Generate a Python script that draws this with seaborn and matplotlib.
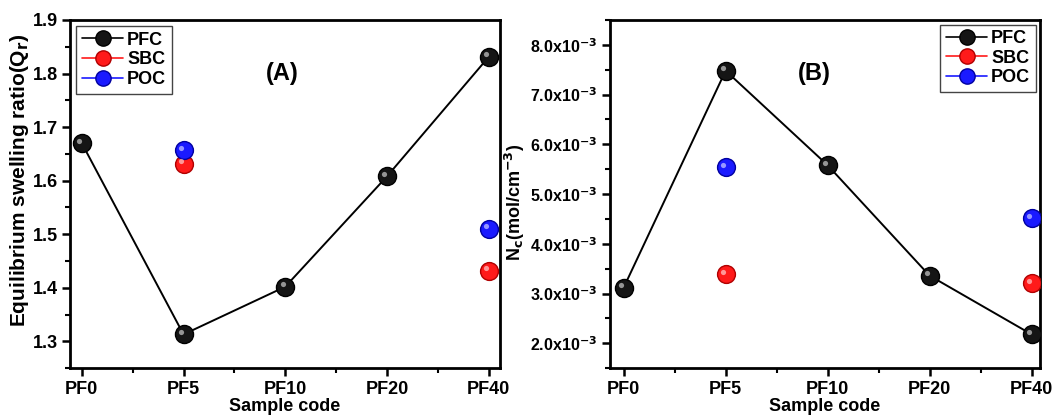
import numpy as np
import pandas as pd
import matplotlib
matplotlib.use("Agg")
import matplotlib.pyplot as plt
import seaborn as sns
from matplotlib.ticker import MultipleLocator, FuncFormatter

# --- data ---
samples = ["PF0", "PF5", "PF10", "PF20", "PF40"]
swell_pfc = [1.670, 1.313, 1.402, 1.608, 1.831]
swell_sbc = [np.nan, 1.632, np.nan, np.nan, 1.432]
swell_poc = [np.nan, 1.657, np.nan, np.nan, 1.510]
nc_pfc = [3.12e-3, 7.48e-3, 5.58e-3, 3.36e-3, 2.18e-3]
nc_sbc = [np.nan, 3.39e-3, np.nan, np.nan, 3.21e-3]
nc_poc = [np.nan, 5.54e-3, np.nan, np.nan, 4.51e-3]

series = ["PFC", "SBC", "POC"]
colors = {"PFC": "#151515", "SBC": "#ff1a1a", "POC": "#1a1aff"}
edges = {"PFC": "#000000", "SBC": "#b00000", "POC": "#0000a0"}

sns.set_style("ticks")
plt.rcParams["font.family"] = ["Liberation Sans", "DejaVu Sans"]
plt.rcParams["font.weight"] = "bold"
plt.rcParams["axes.labelweight"] = "bold"
plt.rcParams["axes.linewidth"] = 2.0
plt.rcParams["text.color"] = "black"
plt.rcParams["axes.labelcolor"] = "black"
plt.rcParams["axes.edgecolor"] = "black"
plt.rcParams["xtick.color"] = "black"
plt.rcParams["ytick.color"] = "black"
plt.rcParams["mathtext.default"] = "bf"


def long_frame(pfc, sbc, poc):
    rows = []
    for name, vals in zip(series, [pfc, sbc, poc]):
        for i, v in enumerate(vals):
            if not np.isnan(v):
                rows.append({"pos": i, "value": v, "series": name})
    return pd.DataFrame(rows)


def draw_panel(ax, df, ylabel, ylim, xlim, label, label_xy, legend_loc, legend_anchor):
    pfc = df[df["series"] == "PFC"]
    sns.lineplot(data=pfc, x="pos", y="value", color="black", lw=1.4, ax=ax,
                 marker="o", markersize=13, markerfacecolor=colors["PFC"],
                 markeredgecolor=edges["PFC"], markeredgewidth=1.0, zorder=3)
    for name in ["SBC", "POC"]:
        sub = df[df["series"] == name]
        sns.scatterplot(data=sub, x="pos", y="value", ax=ax, s=165,
                        color=colors[name], edgecolor=edges[name],
                        linewidth=1.0, zorder=4)
    # glossy highlight on the spheres
    for name in series:
        sub = df[df["series"] == name]
        ax.scatter(sub["pos"] - 0.025, sub["value"] + (ylim[1] - ylim[0]) * 0.007,
                   s=14, color="white", alpha=0.55, linewidths=0, zorder=5)

    ax.set_xlim(*xlim)
    ax.set_ylim(*ylim)
    ax.set_xticks(range(len(samples)))
    ax.set_xticklabels(samples)
    ax.xaxis.set_minor_locator(MultipleLocator(0.5))
    ax.tick_params(which="major", direction="out", length=6, width=1.8,
                   labelsize=13, top=False, right=False, pad=3)
    ax.tick_params(which="minor", direction="out", length=3.5, width=1.5,
                   top=False, right=False)
    for sp in ax.spines.values():
        sp.set_visible(True)
        sp.set_linewidth(2.0)
        sp.set_color("black")
    ax.set_xlabel("Sample code", fontsize=13, fontweight="bold", labelpad=0)
    ax.set_ylabel(ylabel, fontsize=15, fontweight="bold", labelpad=3)
    ax.text(label_xy[0], label_xy[1], label, fontsize=17, fontweight="bold",
            ha="center", va="center")

    handles = []
    for name in series:
        h, = ax.plot([], [], color=colors[name] if name != "PFC" else "black",
                     lw=1.2, marker="o", markersize=11,
                     markerfacecolor=colors[name], markeredgecolor=edges[name])
        handles.append(h)
    leg = ax.legend(handles, series, loc=legend_loc, bbox_to_anchor=legend_anchor,
                    fancybox=False, framealpha=1, edgecolor="#444444",
                    prop={"weight": "bold", "size": 13}, handlelength=2.3,
                    handletextpad=0.2, borderpad=0.3, labelspacing=0.15,
                    borderaxespad=0.35)
    leg.get_frame().set_linewidth(1.0)


fig, (ax1, ax2) = plt.subplots(1, 2, figsize=(10.62, 4.16), dpi=100)
fig.subplots_adjust(left=0.066, right=0.979, top=0.952, bottom=0.115, wspace=0.256)

df_a = long_frame(swell_pfc, swell_sbc, swell_poc)
draw_panel(ax1, df_a, "Equilibrium swelling ratio(Q$_r$)", (1.25, 1.9),
           (-0.115, 4.11), "(A)", (1.97, 1.80), "upper left", (0.0, 1.0))
ax1.yaxis.set_major_locator(MultipleLocator(0.1))
ax1.yaxis.set_minor_locator(MultipleLocator(0.05))
ax1.yaxis.set_major_formatter(FuncFormatter(lambda v, p: f"{v:.1f}"))
ax1.yaxis.set_label_coords(-0.09, 0.54)

df_b = long_frame(nc_pfc, nc_sbc, nc_poc)
draw_panel(ax2, df_b, "N$_c$(mol/cm$^{-3}$)", (1.5e-3, 8.5e-3),
           (-0.135, 4.08), "(B)", (1.87, 7.42e-3), "upper right", (1.005, 1.005))
ax2.yaxis.set_major_locator(MultipleLocator(1e-3))
ax2.yaxis.set_minor_locator(MultipleLocator(0.5e-3))
ax2.yaxis.set_major_formatter(
    FuncFormatter(lambda v, p: r"%.1fx10$^{-3}$" % (v * 1e3)))
ax2.tick_params(axis="y", labelsize=11.5)
ax2.yaxis.label.set_fontsize(13)
ax2.yaxis.set_label_coords(-0.193, 0.477)

fig.savefig("out.png", dpi=100)
